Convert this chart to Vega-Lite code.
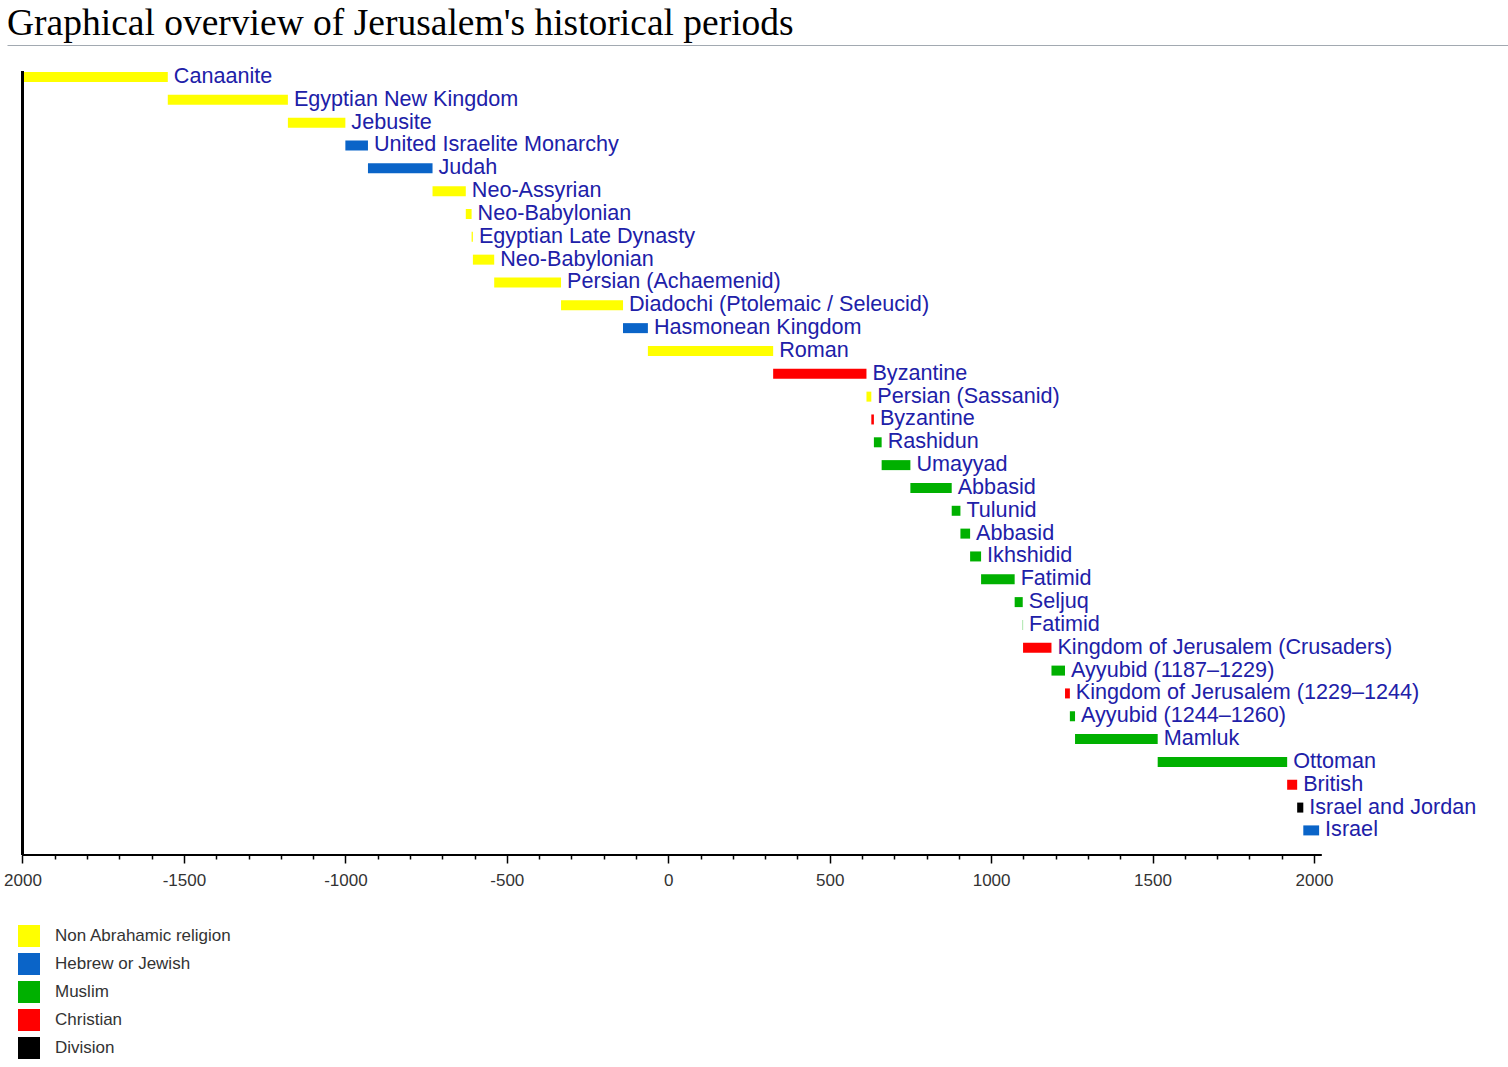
{
  "$schema": "https://vega.github.io/schema/vega-lite/v6.json",
  "width": 1501,
  "height": 784,
  "autosize": {"type": "none"},
  "padding": {"left": 7, "top": 71, "right": 0, "bottom": 212},
  "background": "white",
  "title": {
    "text": "Graphical overview of Jerusalem's historical periods",
    "anchor": "start",
    "frame": "group",
    "font": "Liberation Serif",
    "fontSize": 37.5,
    "fontWeight": "normal",
    "color": "#000000",
    "baseline": "alphabetic",
    "offset": 12,
    "dy": 39
  },
  "config": {"view": {"stroke": null}},
  "data": {
    "values": [
      {"row": 1, "period": "Canaanite", "start": -2000, "end": -1550, "religion": "Non Abrahamic religion"},
      {"row": 2, "period": "Egyptian New Kingdom", "start": -1550, "end": -1178, "religion": "Non Abrahamic religion"},
      {"row": 3, "period": "Jebusite", "start": -1178, "end": -1000, "religion": "Non Abrahamic religion"},
      {"row": 4, "period": "United Israelite Monarchy", "start": -1000, "end": -930, "religion": "Hebrew or Jewish"},
      {"row": 5, "period": "Judah", "start": -930, "end": -730, "religion": "Hebrew or Jewish"},
      {"row": 6, "period": "Neo-Assyrian", "start": -730, "end": -627, "religion": "Non Abrahamic religion"},
      {"row": 7, "period": "Neo-Babylonian", "start": -627, "end": -609, "religion": "Non Abrahamic religion"},
      {"row": 8, "period": "Egyptian Late Dynasty", "start": -609, "end": -605, "religion": "Non Abrahamic religion"},
      {"row": 9, "period": "Neo-Babylonian", "start": -605, "end": -539, "religion": "Non Abrahamic religion"},
      {"row": 10, "period": "Persian (Achaemenid)", "start": -539, "end": -332, "religion": "Non Abrahamic religion"},
      {"row": 11, "period": "Diadochi (Ptolemaic / Seleucid)", "start": -332, "end": -140, "religion": "Non Abrahamic religion"},
      {"row": 12, "period": "Hasmonean Kingdom", "start": -140, "end": -63, "religion": "Hebrew or Jewish"},
      {"row": 13, "period": "Roman", "start": -63, "end": 325, "religion": "Non Abrahamic religion"},
      {"row": 14, "period": "Byzantine", "start": 325, "end": 614, "religion": "Christian"},
      {"row": 15, "period": "Persian (Sassanid)", "start": 614, "end": 629, "religion": "Non Abrahamic religion"},
      {"row": 16, "period": "Byzantine", "start": 629, "end": 637, "religion": "Christian"},
      {"row": 17, "period": "Rashidun", "start": 637, "end": 661, "religion": "Muslim"},
      {"row": 18, "period": "Umayyad", "start": 661, "end": 750, "religion": "Muslim"},
      {"row": 19, "period": "Abbasid", "start": 750, "end": 878, "religion": "Muslim"},
      {"row": 20, "period": "Tulunid", "start": 878, "end": 905, "religion": "Muslim"},
      {"row": 21, "period": "Abbasid", "start": 905, "end": 935, "religion": "Muslim"},
      {"row": 22, "period": "Ikhshidid", "start": 935, "end": 969, "religion": "Muslim"},
      {"row": 23, "period": "Fatimid", "start": 969, "end": 1073, "religion": "Muslim"},
      {"row": 24, "period": "Seljuq", "start": 1073, "end": 1098, "religion": "Muslim"},
      {"row": 25, "period": "Fatimid", "start": 1098, "end": 1099, "religion": "Muslim"},
      {"row": 26, "period": "Kingdom of Jerusalem (Crusaders)", "start": 1099, "end": 1187, "religion": "Christian"},
      {"row": 27, "period": "Ayyubid (1187–1229)", "start": 1187, "end": 1229, "religion": "Muslim"},
      {"row": 28, "period": "Kingdom of Jerusalem (1229–1244)", "start": 1229, "end": 1244, "religion": "Christian"},
      {"row": 29, "period": "Ayyubid (1244–1260)", "start": 1244, "end": 1260, "religion": "Muslim"},
      {"row": 30, "period": "Mamluk", "start": 1260, "end": 1516, "religion": "Muslim"},
      {"row": 31, "period": "Ottoman", "start": 1516, "end": 1917, "religion": "Muslim"},
      {"row": 32, "period": "British", "start": 1917, "end": 1948, "religion": "Christian"},
      {"row": 33, "period": "Israel and Jordan", "start": 1948, "end": 1967, "religion": "Division"},
      {"row": 34, "period": "Israel", "start": 1967, "end": 2016, "religion": "Hebrew or Jewish"}
    ]
  },
  "layer": [
    {
      "mark": {"type": "bar", "size": 10},
      "encoding": {
        "x": {
          "field": "start",
          "type": "quantitative",
          "scale": {"domain": [-2048, 2601], "nice": false, "zero": false, "padding": 0},
          "axis": {
            "orient": "bottom",
            "domain": false,
            "grid": false,
            "title": null,
            "values": [-2000, -1900, -1800, -1700, -1600, -1500, -1400, -1300, -1200, -1100, -1000, -900, -800, -700, -600, -500, -400, -300, -200, -100, 0, 100, 200, 300, 400, 500, 600, 700, 800, 900, 1000, 1100, 1200, 1300, 1400, 1500, 1600, 1700, 1800, 1900, 2000],
            "tickSize": {"condition": {"test": "datum.value % 500 === 0", "value": 8}, "value": 4},
            "tickColor": "#000000",
            "tickWidth": 1.5,
            "labelExpr": "datum.value % 500 !== 0 ? '' : (datum.value == -2000 ? '2000' : (datum.value < 0 ? '-' + toString(-datum.value) : toString(datum.value)))",
            "labelFont": "Liberation Sans",
            "labelFontSize": 17,
            "labelColor": "#333333",
            "labelPadding": 9,
            "labelOverlap": false,
            "labelFlush": false
          }
        },
        "x2": {"field": "end"},
        "y": {
          "field": "row",
          "type": "quantitative",
          "scale": {"domain": [0.737, 35.077], "reverse": true, "nice": false, "zero": false, "padding": 0},
          "axis": null
        },
        "color": {
          "field": "religion",
          "type": "nominal",
          "scale": {
            "domain": ["Non Abrahamic religion", "Hebrew or Jewish", "Muslim", "Christian", "Division"],
            "range": ["#ffff00", "#0a64c8", "#00b000", "#ff0000", "#000000"]
          },
          "legend": {
            "orient": "none",
            "legendX": 11,
            "legendY": 854,
            "title": null,
            "symbolType": "square",
            "symbolSize": 484,
            "symbolStrokeWidth": 0,
            "symbolOpacity": 1,
            "labelFont": "Liberation Sans",
            "labelFontSize": 17,
            "labelColor": "#333333",
            "labelOffset": 15,
            "labelLimit": 0,
            "rowPadding": 6,
            "padding": 0
          }
        }
      }
    },
    {
      "mark": {"type": "text", "align": "left", "baseline": "middle", "dx": 6, "font": "Liberation Sans", "fontSize": 21.6, "color": "#2020a8"},
      "encoding": {
        "x": {
          "field": "end",
          "type": "quantitative",
          "axis": {"orient": "top", "offset": 26, "domain": true, "domainColor": "#a2a9b1", "domainWidth": 1, "ticks": false, "labels": false, "grid": false, "title": null}
        },
        "y": {"field": "row", "type": "quantitative", "axis": null},
        "text": {"field": "period"}
      }
    },
    {
      "mark": {"type": "rule", "color": "#000000", "strokeWidth": 1.5},
      "encoding": {
        "x": {"datum": -2000, "axis": null},
        "y": {"datum": 0.737, "axis": null},
        "y2": {"datum": 35.077}
      }
    },
    {
      "mark": {"type": "rule", "color": "#000000", "strokeWidth": 1.5},
      "encoding": {
        "x": {"datum": -2000, "axis": null},
        "x2": {"datum": 2022},
        "y": {"datum": 35.077, "axis": null}
      }
    }
  ],
  "resolve": {"axis": {"x": "independent"}}
}
